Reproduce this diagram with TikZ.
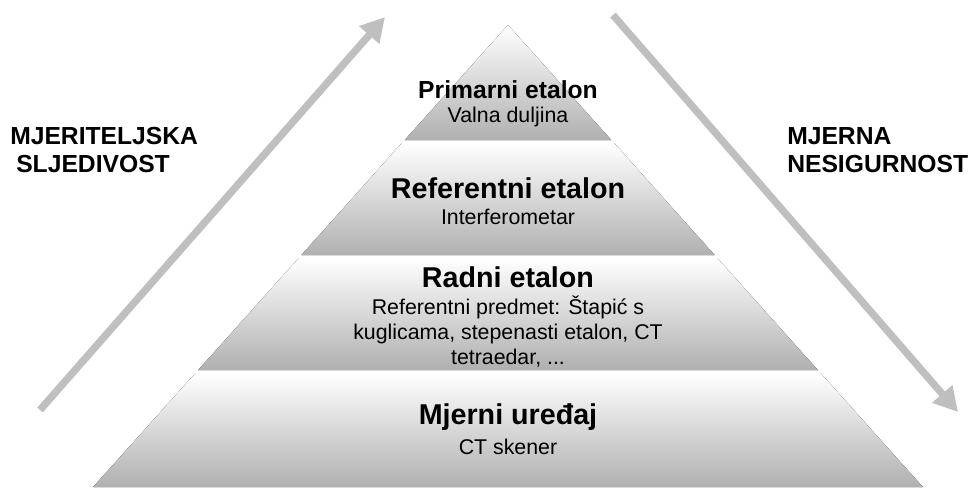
\documentclass[tikz,border=0pt]{standalone}
\usepackage{fontspec}
\setmainfont{Liberation Sans}
\usetikzlibrary{arrows.meta,positioning}

\tikzset{
  layer/.style={top color=white,bottom color=gray!62,draw=none},
  trend/.style={draw=gray!50,line width=5.5pt,-{Triangle[length=18pt,width=19pt]}},
  sidetext/.style={font=\fontsize{18.5}{20}\selectfont\bfseries,align=left,inner sep=0pt},
  headbig/.style={font=\fontsize{21.5}{24}\selectfont\bfseries,inner sep=0pt},
  headsmall/.style={font=\fontsize{18.5}{20}\selectfont\bfseries,inner sep=0pt},
  detail/.style={font=\fontsize{16}{18.75}\selectfont,align=center,inner sep=0pt}
}

\begin{document}
\begin{tikzpicture}[line cap=butt,line join=round,x=0.75pt,y=-0.75pt]
\useasboundingbox (0,0) rectangle (975,489);
% pyramid layers
\fill[layer] (508,25) -- (611.3,140) -- (404.7,140) -- cycle;
\fill[layer] (401.9,143) -- (614.1,143) -- (714.6,255) -- (301.4,255) -- cycle;
\fill[layer] (298.7,258) -- (717.3,258) -- (817.8,370) -- (198.2,370) -- cycle;
\fill[layer] (195.5,373) -- (820.5,373) -- (922.9,487) -- (93.1,487) -- cycle;
% arrows
\coordinate (upstart) at (40,410);
\coordinate (upend) at (385,17);
\coordinate (downstart) at (613,15);
\coordinate (downend) at (958,412);
\draw[trend] (upstart) -- (upend);
\draw[trend] (downstart) -- (downend);
% side labels
\node[sidetext,anchor=west] (trace) at (10,150) {MJERITELJSKA\\[1pt]\hspace{4.5pt}SLJEDIVOST};
\node[sidetext,anchor=west] (uncert) at (787,150) {MJERNA\\[1pt]NESIGURNOST};
% layer texts
\node[headsmall] (primary) at (508,90) {Primarni etalon};
\node[detail] (wavelen) at (508,117) {Valna duljina};
\node[headbig] (reference) at (508,188) {Referentni etalon};
\node[detail] (interf) at (508,217) {Interferometar};
\node[headbig] (working) at (508,277) {Radni etalon};
\node[detail] (artefact) at (508,332) {Referentni predmet: Štapić s\\kuglicama, stepenasti etalon, CT\\tetraedar, ...};
\node[headbig] (device) at (508,417) {Mjerni uređaj};
\node[detail] (scanner) at (508,447) {CT skener};
\end{tikzpicture}
\end{document}
